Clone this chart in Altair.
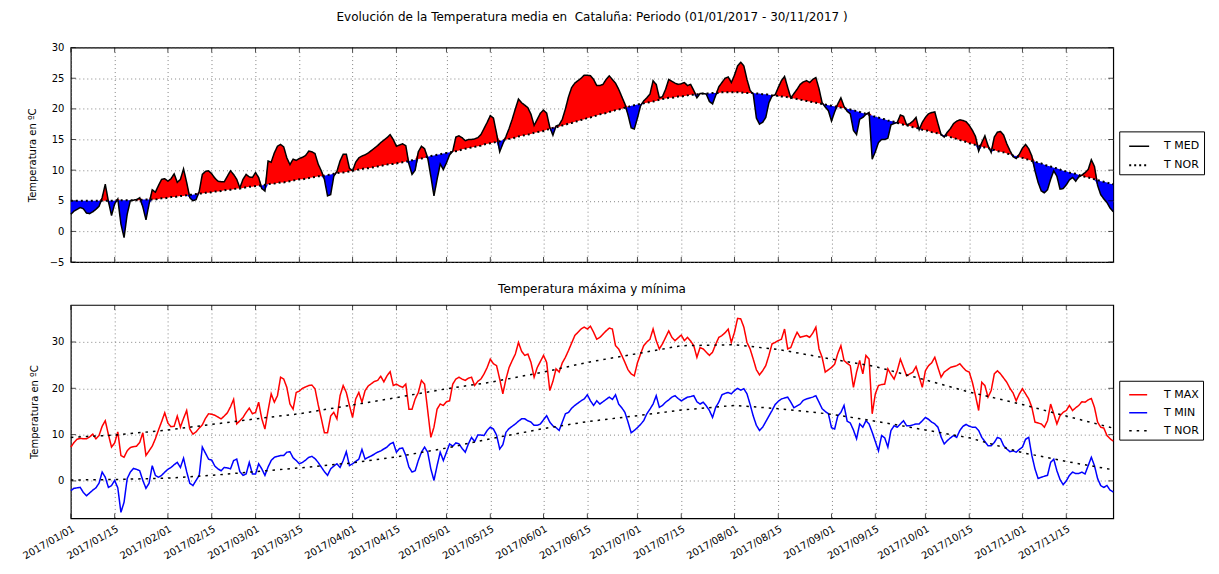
import altair as alt
import pandas as pd

START = "2017-01-01"
END = "2017-11-30"

# ---- Temperatura media diaria (T MED), por meses ----
tmed_ene = [2.8, 3.3, 3.6, 3.9, 3.7, 3.0, 2.9, 3.2, 3.6, 4.1, 5.5, 7.7, 4.9, 2.6, 4.5, 5.3, 1.2, -1.0, 2.8, 5.0,
            5.1, 5.2, 5.5, 4.0, 1.9, 4.5, 6.8, 6.4, 7.5, 8.5, 8.6]
tmed_feb = [8.2, 8.6, 9.4, 8.0, 8.5, 10.2, 8.0, 5.5, 5.0, 5.2, 6.5, 9.3, 9.8, 9.9, 9.4, 8.7, 8.2, 8.1, 8.1, 9.0,
            9.9, 9.3, 8.5, 7.1, 8.5, 9.3, 8.9, 8.8]
tmed_mar = [9.6, 8.8, 7.0, 6.6, 11.5, 11.3, 12.8, 13.9, 14.2, 13.8, 12.0, 10.9, 11.8, 11.6, 11.9, 12.1, 12.4, 13.1,
            13.0, 12.7, 11.0, 9.9, 8.5, 5.8, 6.0, 9.0, 9.8, 11.5, 12.6, 12.6, 10.3]
tmed_abr = [9.9, 11.3, 12.0, 12.3, 12.5, 12.8, 13.2, 13.6, 14.0, 14.5, 14.9, 15.3, 15.8, 15.0, 13.9, 14.1, 14.3,
            14.0, 11.0, 9.3, 10.0, 13.0, 13.9, 13.5, 12.0, 9.0, 5.8, 8.5, 11.0, 10.1]
tmed_may = [11.2, 12.5, 13.1, 15.4, 15.6, 15.3, 14.8, 15.0, 15.0, 15.1, 15.3, 15.8, 16.8, 17.8, 18.9, 18.5, 16.0,
            13.0, 14.3, 15.5, 16.8, 18.3, 20.0, 21.6, 21.0, 20.6, 20.2, 19.1, 17.3, 18.3, 19.3]
tmed_jun = [19.8, 19.3, 17.0, 15.7, 17.2, 17.4, 18.3, 20.0, 22.0, 23.5, 24.2, 24.6, 25.0, 25.5, 25.5, 25.4, 24.8,
            23.8, 23.8, 24.0, 24.8, 25.4, 24.8, 24.2, 23.2, 22.0, 20.8, 19.0, 16.9, 16.7]
tmed_jul = [18.5, 20.5, 21.3, 21.8, 22.4, 24.6, 24.0, 21.8, 22.0, 23.2, 24.8, 24.5, 24.2, 24.0, 24.1, 24.3, 23.8,
            24.0, 23.0, 21.8, 22.5, 22.5, 22.4, 21.2, 20.8, 22.2, 23.6, 24.3, 25.0, 25.2, 24.3]
tmed_ago = [25.5, 27.0, 27.6, 27.0, 24.8, 23.0, 22.4, 18.5, 17.5, 17.8, 18.6, 21.0, 22.1, 22.3, 23.5, 24.6, 25.3,
            23.5, 21.8, 22.5, 23.2, 24.0, 24.4, 24.6, 24.3, 24.8, 25.1, 23.3, 21.0, 20.3, 19.7]
tmed_sep = [18.0, 19.5, 20.8, 21.8, 20.4, 19.6, 19.2, 16.5, 15.8, 18.3, 18.6, 19.1, 19.4, 11.8, 13.0, 14.5, 15.0,
            15.0, 15.2, 17.4, 17.6, 17.8, 19.0, 18.8, 17.4, 17.6, 18.0, 18.6, 16.6, 17.8]
tmed_oct = [18.6, 19.2, 19.4, 19.5, 17.6, 15.8, 15.4, 16.2, 16.8, 17.6, 18.0, 18.2, 18.1, 17.9, 17.3, 16.5, 15.5,
            13.1, 14.5, 15.6, 14.0, 12.9, 15.4, 16.2, 16.3, 15.7, 14.3, 13.2, 12.2, 11.9, 12.6]
tmed_nov = [13.6, 14.2, 13.5, 12.3, 9.9, 8.0, 6.6, 6.3, 6.8, 8.5, 9.9, 9.0, 6.9, 7.0, 7.6, 8.4, 8.8, 8.2, 8.9,
            9.2, 9.6, 10.1, 11.7, 10.6, 7.5, 6.0, 5.3, 4.7, 3.8, 3.2]

# ---- Temperatura normal media diaria (T NOR) ----
tnor_ene = [5.0] * 15 + [5.1] * 8 + [5.2] * 5 + [5.3, 5.4, 5.4]
tnor_feb = [5.5, 5.6, 5.6, 5.7, 5.8, 5.8, 5.9, 6.0, 6.0, 6.1, 6.2, 6.2, 6.3, 6.3, 6.4, 6.5, 6.5, 6.6, 6.7, 6.8,
            6.8, 6.9, 7.0, 7.0, 7.1, 7.2, 7.3, 7.3]
tnor_mar = [7.4, 7.5, 7.5, 7.6, 7.7, 7.8, 7.8, 7.9, 8.0, 8.0, 8.1, 8.2, 8.3, 8.4, 8.5, 8.5, 8.6, 8.7, 8.8, 8.9,
            9.0, 9.0, 9.1, 9.2, 9.3, 9.4, 9.5, 9.6, 9.6, 9.7, 9.8]
tnor_abr = [9.9, 10.0, 10.1, 10.2, 10.3, 10.3, 10.4, 10.5, 10.6, 10.7, 10.8, 10.9, 11.0, 11.0, 11.1, 11.2, 11.3,
            11.4, 11.5, 11.6, 11.7, 11.8, 11.9, 12.0, 12.2, 12.3, 12.4, 12.5, 12.6, 12.7]
tnor_may = [12.8, 12.9, 13.0, 13.1, 13.2, 13.4, 13.5, 13.6, 13.7, 13.8, 13.9, 14.0, 14.2, 14.3, 14.4, 14.5, 14.6,
            14.7, 14.9, 15.0, 15.1, 15.2, 15.3, 15.5, 15.6, 15.7, 15.8, 15.9, 16.1, 16.2, 16.3]
tnor_jun = [16.4, 16.6, 16.7, 16.9, 17.0, 17.1, 17.3, 17.4, 17.6, 17.7, 17.9, 18.0, 18.2, 18.3, 18.5, 18.6, 18.8,
            18.9, 19.1, 19.2, 19.3, 19.5, 19.6, 19.8, 19.9, 20.0, 20.2, 20.3, 20.5, 20.6]
tnor_jul = [20.7, 20.8, 20.9, 21.0, 21.1, 21.2, 21.3, 21.5, 21.6, 21.7, 21.8, 21.8, 21.9, 22.0, 22.0, 22.1, 22.2,
            22.3, 22.3, 22.4, 22.4, 22.5, 22.5, 22.5, 22.6, 22.6, 22.6, 22.7, 22.7, 22.7, 22.7]
tnor_ago = [22.7, 22.7, 22.7, 22.6, 22.6, 22.6, 22.6, 22.5, 22.5, 22.4, 22.4, 22.3, 22.2, 22.2, 22.1, 22.0, 22.0,
            21.9, 21.8, 21.7, 21.6, 21.5, 21.4, 21.3, 21.2, 21.1, 21.0, 20.9, 20.8, 20.7, 20.6]
tnor_sep = [20.5, 20.4, 20.3, 20.2, 20.1, 20.0, 19.9, 19.8, 19.6, 19.5, 19.3, 19.2, 19.0, 18.9, 18.7, 18.6, 18.4,
            18.3, 18.1, 18.0, 17.9, 17.7, 17.6, 17.4, 17.3, 17.2, 17.0, 16.9, 16.8, 16.6]
tnor_oct = [16.5, 16.4, 16.2, 16.1, 16.0, 15.8, 15.7, 15.6, 15.4, 15.2, 15.1, 14.9, 14.8, 14.6, 14.4, 14.3, 14.1,
            14.0, 13.8, 13.7, 13.6, 13.4, 13.3, 13.1, 13.0, 12.9, 12.7, 12.6, 12.4, 12.3, 12.1]
tnor_nov = [12.0, 11.8, 11.7, 11.5, 11.4, 11.2, 11.1, 10.9, 10.7, 10.6, 10.4, 10.3, 10.1, 9.9, 9.8, 9.6, 9.5,
            9.4, 9.2, 9.1, 8.9, 8.8, 8.7, 8.5, 8.4, 8.2, 8.1, 8.0, 7.8, 7.7]

# ---- Temperatura maxima diaria (T MAX) ----
tmax_ene = [7.3, 8.3, 9.0, 9.2, 9.1, 9.1, 9.5, 10.1, 9.1, 9.8, 11.8, 13.0, 10.0, 7.3, 8.2, 10.6, 5.5, 5.1, 6.5,
            7.2, 7.4, 7.5, 8.3, 10.4, 5.5, 6.5, 7.5, 9.1, 11.0, 12.8, 14.7]
tmax_feb = [12.5, 11.7, 11.8, 14.0, 11.6, 13.5, 15.2, 11.2, 10.1, 10.6, 11.4, 12.1, 13.5, 14.5, 14.4, 14.2, 13.8,
            13.4, 14.0, 14.7, 16.0, 17.6, 12.3, 13.0, 13.7, 14.8, 15.7, 14.5]
tmax_mar = [14.8, 17.0, 13.4, 11.2, 15.2, 18.8, 17.0, 18.4, 22.4, 22.0, 20.2, 16.6, 15.5, 19.1, 19.4, 20.0, 20.3,
            20.6, 20.7, 19.9, 16.5, 13.5, 10.4, 10.4, 14.0, 14.8, 13.4, 18.4, 20.6, 19.1, 16.3]
tmax_abr = [13.7, 17.7, 19.1, 17.0, 19.5, 20.5, 21.0, 21.5, 21.7, 22.6, 21.4, 22.7, 23.6, 20.6, 20.9, 20.5, 20.2,
            20.9, 15.5, 15.5, 17.7, 19.1, 21.7, 20.9, 15.2, 9.4, 11.6, 15.5, 16.6, 16.3]
tmax_may = [17.1, 17.3, 20.9, 22.0, 22.4, 22.0, 21.7, 22.2, 22.4, 20.6, 21.5, 22.0, 23.1, 24.5, 26.3, 25.3, 24.9,
            22.0, 18.8, 22.0, 24.5, 26.0, 27.4, 29.9, 28.0, 27.1, 27.4, 25.6, 22.4, 24.5, 25.8]
tmax_jun = [27.1, 25.6, 19.5, 21.5, 24.2, 23.5, 25.5, 26.7, 28.2, 29.8, 31.4, 32.1, 32.8, 33.2, 32.8, 33.4, 32.1,
            30.6, 31.0, 31.7, 32.4, 33.0, 32.8, 29.2, 28.5, 27.1, 25.6, 24.0, 23.1, 22.7]
tmax_jul = [25.5, 27.4, 29.2, 30.0, 30.6, 32.8, 30.3, 28.5, 29.6, 31.0, 32.4, 31.0, 30.3, 30.9, 31.5, 30.3, 31.0,
            30.2, 29.2, 26.7, 28.8, 28.5, 27.8, 27.1, 27.8, 29.5, 31.0, 31.4, 32.0, 32.8, 29.9]
tmax_ago = [32.1, 35.1, 35.0, 33.2, 29.9, 28.5, 26.3, 24.0, 22.9, 23.8, 24.9, 27.1, 29.6, 29.9, 30.3, 30.6, 32.8,
            28.5, 28.8, 30.6, 32.1, 31.0, 31.2, 31.4, 31.0, 31.9, 33.2, 28.5, 26.7, 23.5, 24.0]
tmax_sep = [24.5, 25.2, 27.5, 29.2, 26.0, 25.4, 24.9, 20.2, 23.5, 26.0, 23.1, 27.1, 26.3, 14.5, 18.8, 20.6, 20.8,
            20.9, 24.2, 23.0, 22.0, 23.8, 26.3, 24.5, 22.7, 23.1, 23.5, 24.7, 22.5, 20.2]
tmax_oct = [23.8, 24.9, 25.5, 26.7, 24.5, 22.4, 23.5, 24.0, 24.5, 24.7, 24.9, 25.3, 24.5, 23.8, 23.5, 21.3, 18.4,
            15.2, 21.3, 20.6, 18.1, 19.5, 23.1, 23.8, 23.1, 22.2, 21.3, 20.0, 19.0, 17.3, 18.8]
tmax_nov = [19.9, 18.8, 17.7, 15.9, 12.7, 12.5, 12.3, 11.6, 13.0, 16.6, 14.5, 12.3, 14.1, 14.8, 15.2, 16.3, 15.2,
            15.8, 16.3, 17.1, 17.0, 17.5, 17.8, 15.9, 12.7, 11.6, 11.4, 9.8, 9.1, 8.6]

# ---- Temperatura minima diaria (T MIN) ----
tmin_ene = [-2.1, -1.6, -1.5, -1.4, -2.5, -3.2, -2.6, -2.0, -1.5, -0.5, 1.9, 0.8, -1.4, -1.0, 0.1, -1.5, -6.8,
            -4.6, 0.5, 1.9, 2.7, 2.5, 2.2, 0.1, -1.6, -0.5, 3.3, 1.2, 0.8, 1.2, 1.9]
tmin_feb = [2.5, 2.9, 3.5, 4.0, 2.9, 4.9, 2.0, -0.5, -1.0, 0.1, 1.2, 7.3, 6.0, 4.7, 4.5, 3.2, 2.6, 2.2, 2.9, 2.8,
            2.6, 4.4, 4.7, 2.0, 1.2, 1.5, 4.0, 1.5]
tmin_mar = [1.5, 3.7, 2.6, 1.2, 3.0, 4.4, 5.1, 5.3, 5.5, 5.5, 6.2, 6.3, 5.0, 4.4, 3.7, 4.0, 4.5, 5.1, 5.3, 4.8,
            4.0, 3.0, 2.0, 1.2, 2.6, 3.2, 3.7, 2.9, 4.4, 6.3, 3.3]
tmin_abr = [3.7, 4.2, 4.7, 6.8, 4.7, 5.1, 5.4, 5.8, 6.2, 6.5, 6.9, 7.3, 8.0, 8.3, 6.2, 7.0, 7.1, 5.5, 3.0, 1.9,
            2.2, 4.4, 6.2, 7.3, 6.2, 2.6, 0.1, 3.3, 6.2, 4.4]
tmin_may = [6.2, 8.0, 7.5, 8.2, 8.0, 7.0, 6.2, 8.0, 9.4, 8.5, 9.9, 9.9, 9.8, 10.9, 11.6, 11.2, 9.9, 6.9, 7.8,
            10.5, 11.3, 11.8, 12.3, 12.9, 13.4, 13.4, 13.0, 12.7, 12.0, 12.0, 12.3]
tmin_jun = [13.2, 14.1, 12.7, 11.9, 11.5, 10.9, 12.7, 14.5, 14.8, 15.7, 16.3, 16.8, 17.3, 17.7, 18.6, 17.3, 16.3,
            17.3, 16.6, 17.1, 17.6, 18.1, 17.6, 18.6, 16.6, 15.8, 14.8, 12.7, 10.4, 10.9]
tmin_jul = [11.5, 12.2, 13.0, 14.5, 15.5, 16.6, 18.4, 15.9, 16.3, 17.0, 17.5, 18.1, 18.4, 17.8, 17.3, 17.7, 18.1,
            18.2, 18.4, 17.1, 16.6, 17.0, 16.2, 15.2, 13.7, 15.9, 17.0, 18.6, 18.9, 19.1, 18.8]
tmin_ago = [19.5, 20.0, 19.6, 19.9, 18.8, 16.5, 14.0, 12.0, 10.9, 11.6, 12.8, 14.0, 15.2, 16.5, 17.2, 17.7, 17.9,
            18.1, 17.0, 15.8, 16.2, 16.6, 17.4, 17.7, 17.9, 18.1, 18.4, 17.0, 15.6, 15.0, 14.5]
tmin_sep = [11.5, 11.2, 14.0, 14.8, 16.3, 12.9, 12.5, 11.0, 9.1, 12.3, 11.6, 13.0, 12.3, 10.5, 8.5, 6.5, 9.8, 9.3,
            7.3, 10.9, 11.9, 11.6, 12.3, 13.0, 11.9, 11.9, 12.1, 12.3, 12.3, 13.0]
tmin_oct = [13.7, 13.3, 12.7, 12.3, 11.6, 9.5, 8.0, 8.7, 9.3, 9.8, 9.4, 10.9, 11.8, 12.2, 11.8, 11.6, 11.6, 10.9,
            9.4, 8.5, 7.6, 7.6, 8.3, 9.4, 9.1, 7.6, 6.9, 6.3, 6.5, 6.2, 6.8]
tmin_nov = [7.3, 9.0, 9.4, 5.5, 2.6, 0.5, 0.8, 1.0, 1.2, 4.0, 4.7, 2.2, 0.3, -0.8, 0.0, 1.2, 1.9, 1.6, 1.6, 1.9,
            1.5, 3.3, 5.1, 3.3, 0.5, -1.0, -1.4, -1.0, -2.0, -2.4]

# ---- Normales de maxima y minima (T NOR, panel inferior) ----
nor_fechas = ["2017-01-01", "2017-01-15", "2017-02-01", "2017-02-15", "2017-03-01", "2017-03-15",
              "2017-04-01", "2017-04-15", "2017-05-01", "2017-05-15", "2017-06-01", "2017-06-15",
              "2017-07-01", "2017-07-15", "2017-08-01", "2017-08-15", "2017-09-01", "2017-09-15",
              "2017-10-01", "2017-10-15", "2017-11-01", "2017-11-15", "2017-11-30"]
nor_max = [9.4, 9.9, 11.0, 12.2, 13.4, 14.5, 16.4, 18.0, 19.9, 21.3, 23.5, 25.6, 27.5, 29.2, 29.4, 28.4, 26.3,
           24.7, 21.8, 19.2, 16.5, 14.0, 11.4]
nor_min = [0.2, 0.3, 0.6, 1.2, 2.0, 2.8, 3.9, 5.2, 7.1, 9.1, 11.3, 12.8, 14.1, 15.3, 16.3, 15.6, 14.4, 12.9,
           11.0, 9.3, 6.1, 4.2, 2.4]

tick_fechas = ["2017-01-01", "2017-01-15", "2017-02-01", "2017-02-15", "2017-03-01", "2017-03-15",
               "2017-04-01", "2017-04-15", "2017-05-01", "2017-05-15", "2017-06-01", "2017-06-15",
               "2017-07-01", "2017-07-15", "2017-08-01", "2017-08-15", "2017-09-01", "2017-09-15",
               "2017-10-01", "2017-10-15", "2017-11-01", "2017-11-15"]
yticks_top = [-5, 0, 5, 10, 15, 20, 25, 30]
yticks_bot = [0, 10, 20, 30]

TITULO = "Evolución de la Temperatura media en \u00a0Cataluña: Periodo (01/01/2017 - 30/11/2017 )"
SUBTITULO = "Temperatura máxima y mínima"
YTITULO = "Temperatura en ºC"

# ---------------------------------------------------------------
tmed = tmed_ene + tmed_feb + tmed_mar + tmed_abr + tmed_may + tmed_jun + tmed_jul + tmed_ago + tmed_sep + tmed_oct + tmed_nov
tnor = tnor_ene + tnor_feb + tnor_mar + tnor_abr + tnor_may + tnor_jun + tnor_jul + tnor_ago + tnor_sep + tnor_oct + tnor_nov
tmax = tmax_ene + tmax_feb + tmax_mar + tmax_abr + tmax_may + tmax_jun + tmax_jul + tmax_ago + tmax_sep + tmax_oct + tmax_nov
tmin = tmin_ene + tmin_feb + tmin_mar + tmin_abr + tmin_may + tmin_jun + tmin_jul + tmin_ago + tmin_sep + tmin_oct + tmin_nov

fechas = pd.date_range(START, END, freq="D").strftime("%Y-%m-%d").tolist()
n = len(fechas)
for arr in (tmed, tnor, tmax, tmin):
    assert len(arr) == n, len(arr)


def ms(s):
    return int(pd.Timestamp(s, tz="UTC").value // 10**6)


tick_ms = [ms(s) for s in tick_fechas]
xdom = [ms(START), ms(END)]

df_top = pd.DataFrame({"fecha": fechas, "tmed": tmed, "tnor": tnor})
df_top["sup"] = df_top[["tmed", "tnor"]].max(axis=1)
df_top["inf"] = df_top[["tmed", "tnor"]].min(axis=1)

df_top_lines = pd.concat([
    pd.DataFrame({"fecha": fechas, "valor": tmed, "serie": "T MED", "grp": "med"}),
    pd.DataFrame({"fecha": fechas, "valor": tnor, "serie": "T NOR", "grp": "nor"}),
])

df_bot = pd.concat([
    pd.DataFrame({"fecha": fechas, "valor": tmax, "serie": "T MAX", "grp": "max"}),
    pd.DataFrame({"fecha": fechas, "valor": tmin, "serie": "T MIN", "grp": "min"}),
    pd.DataFrame({"fecha": nor_fechas, "valor": nor_max, "serie": "T NOR", "grp": "nmax"}),
    pd.DataFrame({"fecha": nor_fechas, "valor": nor_min, "serie": "T NOR", "grp": "nmin"}),
])

df_xt = pd.DataFrame({"fecha": tick_fechas})

W = 1045
H1 = 215
H2 = 214
FONT = "DejaVu Sans"
TS = 10  # tick label size
TL = 5   # inner tick length


def xenc(labels):
    return alt.X(
        "fecha:T",
        scale=alt.Scale(type="utc", domain=xdom),
        axis=alt.Axis(
            values=tick_ms, labelExpr="utcFormat(datum.value, '%Y/%m/%d')", labels=labels,
            ticks=False, domain=False, grid=True, title=None,
            labelAngle=-30, labelAlign="right", labelBaseline="top",
            labelOverlap=False, labelPadding=5, labelFontSize=TS,
        ),
    )


def yaxis(vals):
    return alt.Axis(values=vals, ticks=False, domain=False, grid=True, title=YTITULO,
                    labelPadding=7, titlePadding=12, labelFontSize=TS, titleFontSize=10,
                    labelOverlap=False)


def legend(x, y, size, rowpad, loff):
    return alt.Legend(title=None, orient="none", legendX=x, legendY=y, strokeColor="black",
                      fillColor="white", padding=4, symbolType="stroke", symbolSize=size,
                      symbolStrokeWidth=1.6, rowPadding=rowpad, labelFontSize=11,
                      symbolOffset=5, labelOffset=loff, labelFont=FONT)


def inner_ticks(yscale, yvals, h, xlabels):
    """matplotlib-style inward tick marks on the four sides of the frame."""
    xt = xenc(xlabels)
    yt = alt.Y("v:Q", scale=yscale, axis=yaxis(yvals))
    base_x = alt.Chart(df_xt).mark_tick(orient="vertical", size=TL, thickness=1, color="black")
    df_yt = pd.DataFrame({"v": yvals})
    base_y = alt.Chart(df_yt).mark_tick(orient="horizontal", size=TL, thickness=1, color="black")
    return [
        base_x.encode(x=xt, y=alt.value(TL / 2)),
        base_x.encode(x=xt, y=alt.value(h - TL / 2)),
        base_y.encode(y=yt, x=alt.value(TL / 2)),
        base_y.encode(y=yt, x=alt.value(W - TL / 2)),
    ]


ytop = alt.Scale(domain=[-5, 30], nice=False, zero=False)
ybot = alt.Scale(domain=[-8.1, 38], nice=False, zero=False)

red = alt.Chart(df_top).mark_area(color="#ff0000", opacity=1).encode(
    x=xenc(False),
    y=alt.Y("tnor:Q", scale=ytop, axis=yaxis(yticks_top)),
    y2="sup:Q",
)
blue = alt.Chart(df_top).mark_area(color="#0000ff", opacity=1).encode(
    x=xenc(False), y=alt.Y("inf:Q", scale=ytop, axis=yaxis(yticks_top)), y2="tnor:Q",
)
top_lines = alt.Chart(df_top_lines).mark_line(color="black").encode(
    x=xenc(False),
    y=alt.Y("valor:Q", scale=ytop, axis=yaxis(yticks_top)),
    detail="grp:N",
    strokeDash=alt.StrokeDash("serie:N", scale=alt.Scale(domain=["T MED", "T NOR"], range=[[1, 0], [2, 3]]),
                              legend=legend(1051, 84, 400, 3, 14)),
    strokeWidth=alt.StrokeWidth("serie:N", scale=alt.Scale(domain=["T MED", "T NOR"], range=[1.5, 2]),
                                legend=None),
)
top = alt.layer(red, blue, top_lines, *inner_ticks(ytop, yticks_top, H1, False)).properties(
    width=W, height=H1,
    title=alt.TitleParams(TITULO, fontSize=12, fontWeight="normal", anchor="middle", frame="group",
                          offset=19, font=FONT, color="black"),
)

bot_dom = ["T MAX", "T MIN", "T NOR"]
bot_leg = legend(1051, 76, 324, 3, 16)
bot_lines = alt.Chart(df_bot).mark_line().encode(
    x=xenc(True),
    y=alt.Y("valor:Q", scale=ybot, axis=yaxis(yticks_bot)),
    detail="grp:N",
    color=alt.Color("serie:N", scale=alt.Scale(domain=bot_dom, range=["#ff0000", "#0000ff", "black"]),
                    legend=bot_leg),
    strokeDash=alt.StrokeDash("serie:N", scale=alt.Scale(domain=bot_dom, range=[[1, 0], [1, 0], [2.5, 5]]),
                              legend=bot_leg),
    strokeWidth=alt.StrokeWidth("serie:N", scale=alt.Scale(domain=bot_dom, range=[1.5, 1.5, 3]), legend=None),
)
bottom = alt.layer(bot_lines, *inner_ticks(ybot, yticks_bot, H2, True)).properties(
    width=W, height=H2,
    title=alt.TitleParams(SUBTITULO, fontSize=12, fontWeight="normal", anchor="middle", frame="group",
                          offset=9, font=FONT, color="black"),
)

chart = alt.vconcat(top, bottom, spacing=14).resolve_scale(
    color="independent", strokeDash="independent", strokeWidth="independent"
).resolve_legend(
    color="independent", strokeDash="independent", strokeWidth="independent"
).properties(
    padding={"left": 12, "top": 1, "right": 5, "bottom": 0}
).configure(font=FONT).configure_axis(
    labelFont=FONT, titleFont=FONT, labelColor="black", titleColor="black",
    titleFontWeight="normal", gridColor="#666666", gridDash=[1, 3], gridWidth=0.8, gridOpacity=1,
).configure_view(stroke="black", strokeWidth=1.2).configure_legend(labelColor="black")

chart.save("out.html", embed_options={"renderer": "svg", "actions": False})
